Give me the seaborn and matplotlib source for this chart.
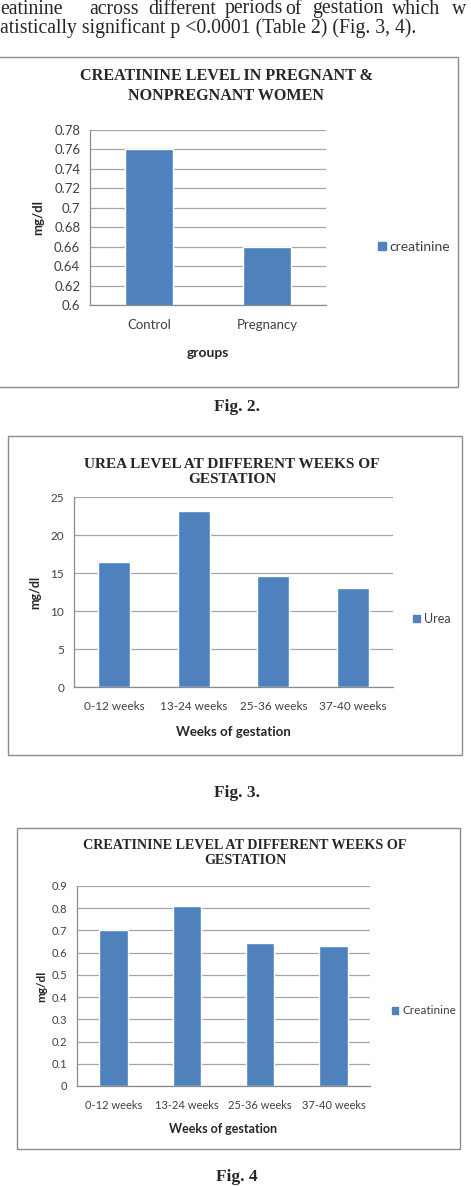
import matplotlib
matplotlib.use('Agg')
import matplotlib.pyplot as plt
import matplotlib.patches as mpatches
from matplotlib.ticker import FuncFormatter, MultipleLocator, FixedLocator
import seaborn as sns

# data read from the scanned page
groups = ['Control', 'Pregnancy']
creat_groups = [0.76, 0.66]

weeks = ['0-12 weeks', '13-24 weeks', '25-36 weeks', '37-40 weeks']
urea_weeks = [16.4, 23.2, 14.6, 13.0]
creat_weeks = [0.70, 0.81, 0.643, 0.632]

BLUE = '#4F81BD'
GRID = '#A6A6A6'
SERIF = 'Liberation Serif'
SANS = 'Lato'

sns.set_style('white')
plt.rcParams['font.family'] = [SANS, 'DejaVu Sans']

W, H = 471, 1186
fig = plt.figure(figsize=(W / 100, H / 100), dpi=100)


def fx(x):
    return x / W


def fy(y):
    return 1 - y / H


def box(x0, y0, x1, y1):
    fig.add_artist(mpatches.Rectangle((fx(x0), fy(y1)), fx(x1) - fx(x0), fy(y0) - fy(y1),
                                      transform=fig.transFigure, fill=False,
                                      edgecolor='#8C8C8C', lw=1.0))


def make_chart(rect, cats, vals, ymax, step, title, title_y, title_x, title_fs,
               xlabel, xlabel_y, xlabel_fs, ylabel_x, tick_fs, legend_name, legend_xy,
               legend_fs, ymin=0, bw=0.4):
    x0, y0, x1, y1 = rect
    ax = fig.add_axes([fx(x0), fy(y1), fx(x1) - fx(x0), fy(y0) - fy(y1)])
    sns.barplot(x=cats, y=vals, color=BLUE, width=bw, ax=ax, saturation=1)
    ax.set_ylim(ymin, ymax)
    ax.set_xlim(-0.5, len(cats) - 0.5)
    ax.yaxis.set_major_locator(MultipleLocator(step))
    ax.yaxis.set_major_formatter(FuncFormatter(lambda v, p: f'{round(v, 4):g}'))
    ax.grid(axis='y', color=GRID, lw=0.9)
    ax.set_axisbelow(True)
    for s in ['top', 'right']:
        ax.spines[s].set_visible(False)
    for s in ['left', 'bottom']:
        ax.spines[s].set_color('#8C8C8C')
        ax.spines[s].set_linewidth(0.9)
    ax.xaxis.set_minor_locator(FixedLocator([i - 0.5 for i in range(len(cats) + 1)]))
    ax.tick_params(axis='x', which='major', length=0, labelsize=tick_fs, colors='#404040', pad=10)
    ax.tick_params(axis='x', which='minor', length=4, color='#8C8C8C', direction='out')
    ax.tick_params(axis='y', length=4, color='#8C8C8C', labelsize=tick_fs, labelcolor='#404040', pad=3)
    ax.set_xlabel('')
    ax.set_ylabel('')
    fig.text(fx(title_x), fy(title_y), title, ha='center', va='center', fontsize=title_fs,
             fontweight='bold', family=SERIF, color='#262626', linespacing=1.25)
    fig.text(fx((x0 + x1) / 2), fy(xlabel_y), xlabel, ha='center', va='center',
             fontsize=xlabel_fs, fontweight='bold', color='#262626')
    fig.text(fx(ylabel_x), fy((y0 + y1) / 2), 'mg/dl', ha='center', va='center',
             rotation=90, fontsize=xlabel_fs - 0.5, fontweight='bold', color='#262626')
    handle = mpatches.Patch(color=BLUE, label=legend_name)
    fig.legend(handles=[handle], loc='center left', bbox_to_anchor=(fx(legend_xy[0]), fy(legend_xy[1])),
               frameon=False, fontsize=legend_fs, handlelength=0.55, handleheight=0.55,
               handletextpad=0.3, borderpad=0, borderaxespad=0, labelcolor='#404040')
    return ax


# running text at the top of the page (justified line, so words are placed one by one)
words1 = [('eatinine', 0), ('across', 89), ('different', 148), ('periods', 225),
          ('of', 285), ('gestation', 312), ('which', 392), ('w', 452)]
for w, x in words1:
    fig.text(fx(x), fy(13.5), w, ha='left', va='baseline', fontsize=14.2, family=SERIF)
fig.text(0, fy(33), 'atistically significant p <0.0001 (Table 2) (Fig. 3, 4).',
         ha='left', va='baseline', fontsize=14.2, family=SERIF)

# Fig. 2
box(-2, 57, 458, 387)
make_chart((90, 130, 326, 305), groups, creat_groups, 0.78, 0.02,
           'CREATININE LEVEL IN PREGNANT &\nNONPREGNANT WOMEN', 86, 226, 11.6,
           'groups', 353, 10, 38, 9.5, 'creatinine', (378, 247), 10, ymin=0.6)
fig.text(fx(237), fy(407), 'Fig. 2.', ha='center', va='center', fontsize=12.5,
         fontweight='bold', family=SERIF)

# Fig. 3
box(8, 436, 462, 755)
make_chart((74, 497, 393, 687), weeks, urea_weeks, 25, 5,
           'UREA LEVEL AT DIFFERENT WEEKS OF\nGESTATION', 472, 232, 11,
           'Weeks of gestation', 732, 9.5, 35, 8.5, 'Urea', (413, 619), 9)
fig.text(fx(237), fy(793), 'Fig. 3.', ha='center', va='center', fontsize=12.5,
         fontweight='bold', family=SERIF)

# Fig. 4
box(17, 828, 460, 1149)
make_chart((77, 886, 370, 1086), weeks, creat_weeks, 0.9, 0.1,
           'CREATININE LEVEL AT DIFFERENT WEEKS OF\nGESTATION', 853, 245, 10.2,
           'Weeks of gestation', 1129, 9, 42, 8, 'Creatinine', (392, 1011), 8.5, bw=0.39)
fig.text(fx(237), fy(1177), 'Fig. 4', ha='center', va='center', fontsize=12.5,
         fontweight='bold', family=SERIF)

fig.savefig('out.png', dpi=100)
